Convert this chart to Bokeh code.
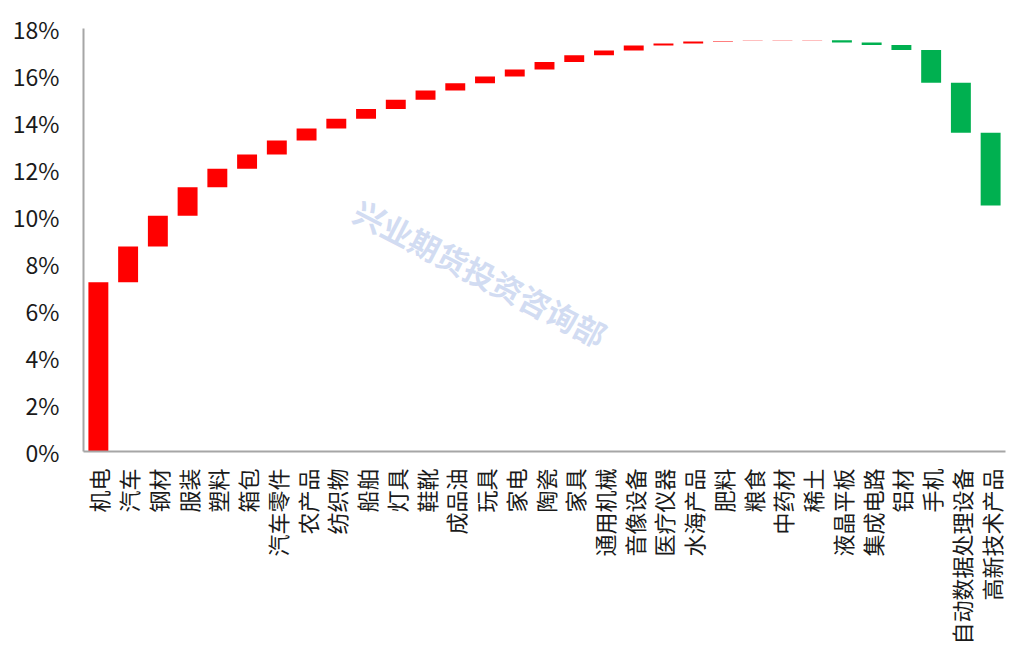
import math
from bokeh.plotting import figure
from bokeh.models import ColumnDataSource, PrintfTickFormatter, FixedTicker, Label, Range1d
from bokeh.embed import file_html
from bokeh.resources import INLINE

# ---- data ----
categories = ["机电", "汽车", "钢材", "服装", "塑料", "箱包", "汽车零件", "农产品", "纺织物",
              "船舶", "灯具", "鞋靴", "成品油", "玩具", "家电", "陶瓷", "家具", "通用机械",
              "音像设备", "医疗仪器", "水海产品", "肥料", "粮食", "中药材", "稀土", "液晶平板",
              "集成电路", "铝材", "手机", "自动数据处理设备", "高新技术产品"]
contributions = [7.20, 1.52, 1.31, 1.22, 0.78, 0.61, 0.59, 0.51, 0.42,
                 0.41, 0.40, 0.39, 0.31, 0.29, 0.30, 0.31, 0.29, 0.20,
                 0.22, 0.08, 0.09, 0.02, 0.01, 0.01, 0.01, -0.10,
                 -0.10, -0.22, -1.39, -2.13, -3.09]
y_ticks = [0, 2, 4, 6, 8, 10, 12, 14, 16, 18]
watermark_text = "兴业期货投资咨询部"

# ---- layout constants ----
FONT = "Noto Sans CJK SC"
RED = "#FF0000"
GREEN = "#00B050"
frame_left, frame_bottom = 83, 451
wm_centers = [(480, 272)]

# ---- waterfall computation ----
starts, ends = [], []
run = 0.0
for d in contributions:
    starts.append(run)
    run += d
    ends.append(run)
bottoms = [min(a, b) for a, b in zip(starts, ends)]
tops = [max(a, b) for a, b in zip(starts, ends)]
colors = [RED if d >= 0 else GREEN for d in contributions]

src = ColumnDataSource(dict(cat=categories, bottom=bottoms, top=tops, color=colors))

p = figure(x_range=categories, y_range=Range1d(0, 18), width=1025, height=670,
           output_backend="svg", toolbar_location=None,
           min_border_left=frame_left, min_border_right=20, min_border_top=28,
           min_border_bottom=670 - frame_bottom)
p.outline_line_color = None
p.background_fill_color = "white"
p.border_fill_color = "white"

p.vbar(x="cat", bottom="bottom", top="top", width=0.67, fill_color="color",
       line_color=None, source=src)

p.xgrid.grid_line_color = None
p.ygrid.grid_line_color = None

# y axis
ya = p.yaxis[0]
ya.ticker = FixedTicker(ticks=y_ticks)
ya.formatter = PrintfTickFormatter(format="%d%%")
ya.axis_line_color = "#A6A6A6"
ya.axis_line_width = 2
ya.major_tick_line_color = None
ya.minor_tick_line_color = None
ya.major_label_standoff = 18
ya.major_label_text_font = FONT
ya.major_label_text_font_size = "23px"
ya.major_label_text_color = "#1a1a1a"

# x axis
xa = p.xaxis[0]
xa.axis_line_color = "#A6A6A6"
xa.axis_line_width = 2
xa.major_tick_line_color = None
xa.minor_tick_line_color = None
xa.major_label_orientation = math.pi / 2
xa.major_label_standoff = 11
xa.major_label_text_font = FONT
xa.major_label_text_font_size = "22px"
xa.major_label_text_color = "#1a1a1a"

# watermark
for cx, cy in wm_centers:
    p.add_layout(Label(x=cx - frame_left, y=frame_bottom - cy, x_units="screen", y_units="screen",
                       text=watermark_text, angle=-0.478, text_align="center",
                       text_baseline="middle", text_font=FONT, text_font_size="31px",
                       text_font_style="bold", text_color="#C3D1EE", text_alpha=0.75,
                       level="overlay"))

open("out.html", "w").write(file_html(p, INLINE))
